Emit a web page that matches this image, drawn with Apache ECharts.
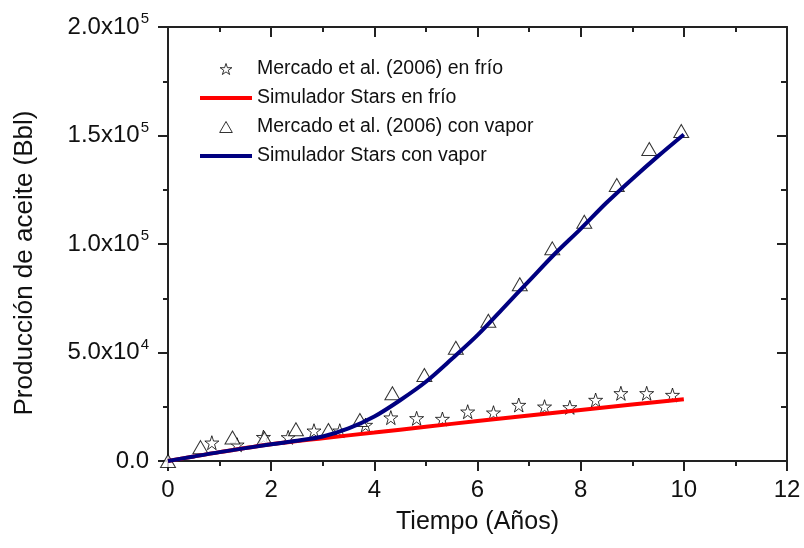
<!DOCTYPE html>
<html><head><meta charset="utf-8">
<script src="https://cdn.jsdelivr.net/npm/echarts@6/dist/echarts.min.js"></script>
<style>html,body{margin:0;padding:0;background:#fff}#c{width:804px;height:548px}</style>
</head><body><div id="c"></div><script>
// Mercado et al. (2006) en frío (stars)
const starX = [0.85,1.34,1.85,2.33,2.83,3.33,3.83,4.32,4.82,5.32,5.81,6.31,6.80,7.30,7.79,8.29,8.78,9.28,9.78];
const starY = [8430,7500,11000,10900,13960,13960,16590,20000,19670,19350,22720,22260,25800,25020,24740,28110,31200,31200,30400];
// Mercado et al. (2006) con vapor (triangles)
const triX = [0,0.63,1.25,1.87,2.48,3.11,3.72,4.35,4.97,5.58,6.21,6.82,7.45,8.07,8.70,9.33,9.95];
const triY = [0,6400,10800,10460,14600,14290,18890,31200,39630,52200,64650,81420,98000,110270,127180,143770,152060];
// Simulador Stars en frío (red)
const redX = [0,0.5,1,2,3,4,5,6,7,8,9,10];
const redY = [0,2100,4100,7700,10500,13100,15800,18400,21000,23500,26000,28500];
// Simulador Stars con vapor (blue)
const blueX = [0,0.5,1,2,2.5,3,3.5,4,4.5,5,5.5,6,6.5,7,7.5,8,8.5,9,9.5,10];
const blueY = [0,2100,4100,7700,9300,11300,15000,20500,28000,36500,47000,58000,70500,83000,95500,107000,119000,130000,140500,150500];
// tick labels
const yTickVals = [0,50000,100000,150000,200000];
const yTickMant = ['0.0','5.0x10','1.0x10','1.5x10','2.0x10'];
const yTickExp  = ['','4','5','5','5'];
const names = ['Mercado et al. (2006) en frío','Simulador Stars en frío','Mercado et al. (2006) con vapor','Simulador Stars con vapor'];

const starPath = 'path://M50,0 L61.8,35.1 L98.9,35.1 L68.9,56.8 L80.3,91.9 L50,70.2 L19.7,91.9 L31.1,56.8 L1.1,35.1 L38.2,35.1 Z';
const triPath = 'path://M50,0 L100,87 L0,87 Z';
const linePath = 'path://M0,0 L130,0 L130,10 L0,10 Z';
const FONT = 'Liberation Sans, Arial, sans-serif';
const pair = (xs, ys) => xs.map((x, i) => [x, ys[i]]);

const chart = echarts.init(document.getElementById('c'), null, {renderer: 'canvas'});
const axLine = {show: true, onZero: false, lineStyle: {color: '#222', width: 2}};
const tk = (inside, len) => ({show: true, inside: inside, length: len, lineStyle: {color: '#222', width: 2}});
const mk = (inside, len) => ({show: true, splitNumber: 2, length: len, lineStyle: {color: '#222', width: 2}});
const markerStyle = {color: '#fff', borderColor: '#000', borderWidth: 1};
chart.setOption({
  animation: false,
  backgroundColor: '#fff',
  textStyle: {fontFamily: FONT},
  grid: {left: 168, right: 17, top: 27, bottom: 87, containLabel: false},
  legend: {
    orient: 'vertical', left: 200, top: 59, padding: 0, itemWidth: 52, itemHeight: 11, itemGap: 9,
    textStyle: {fontSize: 19.5, color: '#111', fontFamily: FONT},
    data: [
      {name: names[0], icon: starPath, itemStyle: markerStyle},
      {name: names[1], icon: linePath, itemStyle: {color: '#ff0000', borderWidth: 0}},
      {name: names[2], icon: triPath, itemStyle: markerStyle},
      {name: names[3], icon: linePath, itemStyle: {color: '#000080', borderWidth: 0}}
    ]
  },
  xAxis: [{
    type: 'value', min: 0, max: 12, interval: 2, position: 'bottom',
    name: 'Tiempo (Años)', nameLocation: 'middle', nameGap: 49,
    nameTextStyle: {fontSize: 25, color: '#111', fontFamily: FONT},
    axisLine: axLine, axisTick: tk(false, 10), minorTick: mk(false, 5),
    axisLabel: {fontSize: 24, color: '#111', margin: 17, fontFamily: FONT},
    splitLine: {show: false}
  }, {
    type: 'value', min: 0, max: 12, interval: 2, position: 'top',
    axisLine: axLine, axisTick: tk(true, 10), minorTick: mk(true, 5),
    axisLabel: {show: false}, splitLine: {show: false}
  }],
  yAxis: [{
    type: 'value', min: 0, max: 200000, interval: 50000, position: 'left',
    name: 'Producción de aceite (Bbl)', nameLocation: 'middle', nameGap: 130,
    nameTextStyle: {fontSize: 26, color: '#111', fontFamily: FONT, padding: [0, 38, 0, 0]},
    axisLine: axLine, axisTick: tk(false, 10), minorTick: mk(false, 5),
    axisLabel: {
      margin: 19, color: '#111', fontFamily: FONT,
      formatter: v => {
        const i = yTickVals.indexOf(v);
        if (i < 0) return '';
        return yTickExp[i] ? '{b|' + yTickMant[i] + '}{s|' + yTickExp[i] + '}' : '{b|' + yTickMant[i] + '}';
      },
      rich: {
        b: {fontSize: 24, color: '#111', fontFamily: FONT},
        s: {fontSize: 15, color: '#111', fontFamily: FONT, verticalAlign: 'bottom', padding: [0, 0, 16, 1]}
      }
    },
    splitLine: {show: false}
  }, {
    type: 'value', min: 0, max: 200000, interval: 50000, position: 'right',
    axisLine: axLine, axisTick: tk(true, 10), minorTick: mk(true, 6),
    axisLabel: {show: false}, splitLine: {show: false}
  }],
  series: [
    {name: names[0], type: 'scatter', symbol: starPath, symbolSize: 14, z: 2,
     itemStyle: markerStyle, data: pair(starX, starY)},
    {name: names[1], type: 'line', showSymbol: false, symbol: 'none', smooth: 0.3, z: 5,
     itemStyle: {color: '#ff0000'}, lineStyle: {color: '#ff0000', width: 4},
     data: pair(redX, redY)},
    {name: names[2], type: 'scatter', symbol: 'triangle', symbolSize: [15, 13], z: 2,
     itemStyle: markerStyle, data: pair(triX, triY)},
    {name: names[3], type: 'line', showSymbol: false, symbol: 'none', smooth: 0.3, z: 6,
     itemStyle: {color: '#000080'}, lineStyle: {color: '#000080', width: 4},
     data: pair(blueX, blueY)}
  ]
});
</script></body></html>
